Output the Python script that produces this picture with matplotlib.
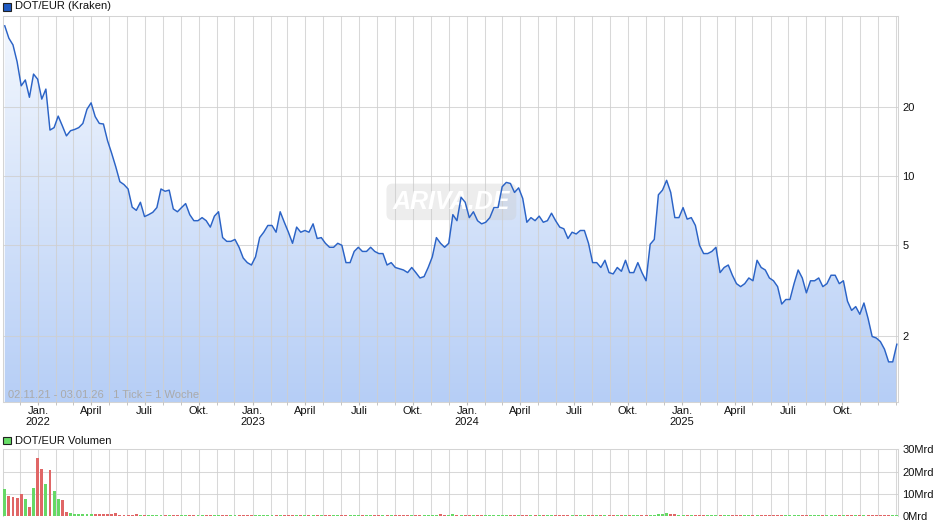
import matplotlib.pyplot as plt
import matplotlib.dates as mdates
import matplotlib.ticker as mticker
from matplotlib.colors import LinearSegmentedColormap
from matplotlib.patches import Rectangle
import numpy as np
import pandas as pd

plt.rcParams['font.family'] = ['Liberation Sans', 'DejaVu Sans']

W, H = 940, 526

# weekly closes DOT/EUR
prices = [
    45.3, 40.0, 37.4, 31.6, 24.8, 26.3, 22.1, 27.9, 26.5, 21.7,
    24.0, 15.9, 16.3, 18.3, 16.6, 15.0, 15.8, 16.0, 16.3, 17.0,
    19.6, 20.9, 18.2, 17.0, 16.9, 14.3,
    12.6, 11.0, 9.47, 9.2, 8.8, 7.33, 7.1, 7.7, 6.67, 6.8,
    6.96, 7.3, 8.8, 8.6, 8.7, 7.2, 7.0, 7.3, 7.6, 6.8,
    6.4, 6.4, 6.6, 6.4, 6.0, 6.7, 7.0, 5.4, 5.2, 5.2,
    5.3, 4.9, 4.4, 4.2, 4.1, 4.45, 5.4, 5.7, 6.1, 6.1,
    5.7, 7.0, 6.3, 5.7, 5.1, 6.0,
    5.7, 5.8, 5.7, 6.2, 5.35, 5.4, 5.1, 4.9, 4.9, 5.1,
    5.0, 4.2, 4.2, 4.7, 4.9, 4.7, 4.7, 4.9, 4.7, 4.6,
    4.6, 4.1, 4.2, 4.0,
    3.95, 3.9, 3.8, 4.0, 3.8, 3.6, 3.65, 4.0,
    4.45, 5.4, 5.1, 4.9, 5.1, 6.8, 6.4, 8.1, 7.7, 6.6,
    7.0, 6.4, 6.2, 6.3, 6.6, 7.3, 7.3, 9.0, 9.4, 9.3,
    8.5, 8.9, 8.0, 6.3, 6.6, 6.4, 6.7, 6.3, 6.4, 6.9,
    6.4, 6.0, 5.9, 5.35, 5.7, 5.6, 5.8, 5.8, 5.1, 4.2,
    4.2, 4.0, 4.3,
    3.8, 3.75, 4.0, 3.85, 4.3, 3.8, 3.8, 4.2, 3.8, 3.5,
    5.05, 5.3, 8.3, 8.7, 9.6, 8.5, 6.6, 6.6, 7.3, 6.5,
    6.6, 6.1, 5.0, 4.6, 4.6, 4.7, 4.9, 3.8, 4.0, 4.1,
    3.7, 3.4, 3.3, 3.4, 3.6, 3.5, 4.3, 4.0, 3.9, 3.6,
    3.5, 3.3, 2.77, 2.9, 2.9, 3.4, 3.9, 3.6, 3.1, 3.5,
    3.5, 3.6, 3.3, 3.4, 3.7, 3.7, 3.4, 3.5, 2.85, 2.6,
    2.7, 2.5, 2.8, 2.4, 2.0, 1.97, 1.9, 1.76, 1.55, 1.55,
    1.85,
]

# weekly volume in Mrd
volumes = [
    12.1, 9.0, 8.5, 8.1, 9.9, 7.6, 4.0, 12.6, 26.1, 21.1,
    14.4, 20.7, 11.2, 7.6, 7.2, 1.8, 1.35, 1.0, 0.8, 0.8,
    0.8, 1.0, 0.8, 0.8, 0.8, 0.8, 0.8, 1.5, 0.6, 0.6,
    0.6, 0.6, 0.9, 0.6, 0.6, 0.6, 0.6, 0.6, 0.6, 0.6,
    0.6, 0.6, 0.6, 0.6, 0.6, 0.6, 0.6, 0.6, 0.6, 0.6,
    0.6, 0.6, 0.6, 0.6, 0.6, 0.6, 0.6, 0.6, 0.6, 0.6,
    0.6, 0.6, 0.6, 0.6, 0.6, 0.6, 0.6, 0.6, 0.6, 0.6,
    0.6, 0.6, 0.6, 0.6, 0.6, 0.6, 0.6, 0.6, 0.6, 0.6,
    0.6, 0.6, 0.6, 0.6, 0.6, 0.6, 0.6, 0.6, 0.6, 0.6,
    0.6, 0.6, 0.6, 0.6, 0.6, 0.6, 0.6, 0.6, 0.6, 0.6,
    0.6, 0.6, 0.6, 0.6, 0.6, 0.6, 1.0, 0.6, 0.6, 1.0,
    0.6, 0.6, 0.6, 0.6, 0.6, 0.6, 0.6, 0.6, 0.6, 0.6,
    0.6, 0.6, 0.6, 0.6, 0.6, 0.6, 0.6, 0.6, 0.6, 0.6,
    0.6, 0.6, 0.6, 0.6, 0.6, 0.6, 0.6, 0.6, 0.6, 0.6,
    0.6, 0.6, 0.6, 0.6, 0.6, 0.6, 0.6, 0.6, 0.6, 0.6,
    0.6, 0.6, 0.6, 0.6, 0.6, 0.6, 0.6, 0.6, 0.6, 0.7,
    0.7, 1.2, 0.9, 0.7, 0.6, 0.6, 0.6, 0.6, 0.6, 0.6,
    0.6, 0.6, 0.6, 0.6, 0.6, 0.6, 0.6, 0.6, 0.6, 0.6,
    0.6, 0.6, 0.6, 0.6, 0.6, 0.6, 0.6, 0.6, 0.6, 0.6,
    0.6, 0.6, 0.6, 0.6, 0.6, 0.6, 0.6, 0.6, 0.6, 0.6,
    0.6, 0.6, 0.6, 0.6, 0.6, 0.6, 0.6, 0.6, 0.6, 0.6,
    0.6, 0.6, 0.6, 0.6, 0.6, 0.6, 0.6, 0.6,
]

dates = pd.date_range('2021-11-05', periods=len(prices), freq='7D')

tick_dates = ['2022-01-01', '2022-04-01', '2022-07-01', '2022-10-01',
              '2023-01-01', '2023-04-01', '2023-07-01', '2023-10-01',
              '2024-01-01', '2024-04-01', '2024-07-01', '2024-10-01',
              '2025-01-01', '2025-04-01', '2025-07-01', '2025-10-01']
tick_labels = ['Jan.\n2022', 'April', 'Juli', 'Okt.',
               'Jan.\n2023', 'April', 'Juli', 'Okt.',
               'Jan.\n2024', 'April', 'Juli', 'Okt.',
               'Jan.\n2025', 'April', 'Juli', 'Okt.']
price_ticks = [2, 5, 10, 20]
price_labels = ['2', '5', '10', '20']
vol_ticks = [0, 10, 20, 30]
vol_labels = ['0Mrd', '10Mrd', '20Mrd', '30Mrd']


def fx(px):
    return px / W


def fy(py):
    return 1 - py / H


grid_c = '#cfcfcf'
spine_c = '#d4d4d4'
fs = 8
x0, x1 = pd.Timestamp('2021-11-02'), pd.Timestamp('2026-01-04')
ymin, ymax = 1.04, 50

fig = plt.figure(figsize=(W / 100, H / 100), dpi=100)
ax = fig.add_axes([fx(3), fy(401.6), fx(898) - fx(3), fy(16) - fy(401.6)])
axv = fig.add_axes([fx(3), fy(516), fx(898) - fx(3), fy(449.3) - fy(516)])

# --- price panel ---
ax.set_yscale('log')
ax.set_xlim(x0, x1)
ax.set_ylim(ymin, ymax)

poly = ax.fill_between(dates, prices, 0.9, facecolor='none', edgecolor='none')
grad = np.linspace(0, 1, 256).reshape(-1, 1)
cmap = LinearSegmentedColormap.from_list('fill', ['#b6cef6', '#f4f8fe'])
img = ax.imshow(grad, cmap=cmap, aspect='auto', origin='lower',
                extent=[0, 1, 0, 1], transform=ax.transAxes, zorder=1)
img.set_clip_path(poly.get_paths()[0], transform=ax.transData)
ax.set_xlim(x0, x1)
ax.set_ylim(ymin, ymax)

ax.plot(dates, prices, color='#2b63c6', lw=1.05, zorder=3)

ax.xaxis.set_major_locator(mticker.FixedLocator(mdates.date2num(pd.to_datetime(tick_dates))))
ax.xaxis.set_major_formatter(mticker.FixedFormatter(tick_labels))
ax.xaxis.set_minor_locator(mdates.MonthLocator())
ax.tick_params(axis='x', which='both', length=2, color='#bbbbbb', pad=1,
               labelsize=fs, labelcolor='#111111')

ax.yaxis.tick_right()
ax.yaxis.set_major_locator(mticker.FixedLocator(price_ticks))
ax.yaxis.set_major_formatter(mticker.FixedFormatter(price_labels))
ax.yaxis.set_minor_locator(mticker.NullLocator())
ax.tick_params(axis='y', length=0, pad=3, labelsize=fs, labelcolor='#111111')

ax.set_axisbelow(False)
ax.grid(which='both', axis='x', color=grid_c, lw=0.75, alpha=0.8)
ax.grid(which='major', axis='y', color=grid_c, lw=0.75, alpha=0.8)
for s in ax.spines.values():
    s.set_color(spine_c)
    s.set_linewidth(0.75)

ax.text(0.0056, 0.017, '02.11.21 - 03.01.26   1 Tick = 1 Woche', transform=ax.transAxes,
        fontsize=fs, color='#aaaaaa', va='center', ha='left', zorder=4)

ax.text(0.501, 0.518, 'ARIVA.DE', transform=ax.transAxes, ha='center', va='center',
        fontsize=18, fontweight='bold', style='italic', color='white', zorder=2.6,
        bbox=dict(boxstyle='round,pad=0.25', fc='#cccccc', ec='none', alpha=0.35))

# --- volume panel ---
colors = ['#66d966']
for i in range(1, len(prices)):
    colors.append('#66d966' if prices[i] >= prices[i - 1] else '#e06666')
axv.bar(dates, volumes, width=5, color=colors, zorder=3)
axv.set_xlim(x0, x1)
axv.set_ylim(0, 30)
axv.xaxis.set_major_locator(mdates.MonthLocator())
axv.xaxis.set_major_formatter(mticker.NullFormatter())
axv.tick_params(axis='x', length=0)
axv.grid(axis='x', color=grid_c, lw=0.75, alpha=0.8)
for v in vol_ticks[1:3]:
    axv.axhline(v, color=grid_c, lw=0.75, alpha=0.8, zorder=1)
axv.yaxis.tick_right()
axv.set_yticks(vol_ticks)
axv.set_yticklabels(vol_labels)
axv.tick_params(axis='y', length=0, pad=3, labelsize=fs, labelcolor='#111111')
for s in axv.spines.values():
    s.set_color(spine_c)
    s.set_linewidth(0.75)
axv.spines['bottom'].set_visible(False)

# --- legends ---
fig.patches.append(Rectangle((fx(3.3), fy(10.7)), 7.7 / W, 8 / H, transform=fig.transFigure,
                             facecolor='#1f5bc4', edgecolor='#222222', lw=0.8))
fig.text(fx(15), fy(6.3), 'DOT/EUR (Kraken)', fontsize=fs, va='center', ha='left', color='#111111')
fig.patches.append(Rectangle((fx(3.3), fy(444.3)), 7.7 / W, 7.6 / H, transform=fig.transFigure,
                             facecolor='#66dd66', edgecolor='#222222', lw=0.8))
fig.text(fx(15), fy(440.5), 'DOT/EUR Volumen', fontsize=fs, va='center', ha='left', color='#111111')

fig.savefig('out.png', dpi=100)
